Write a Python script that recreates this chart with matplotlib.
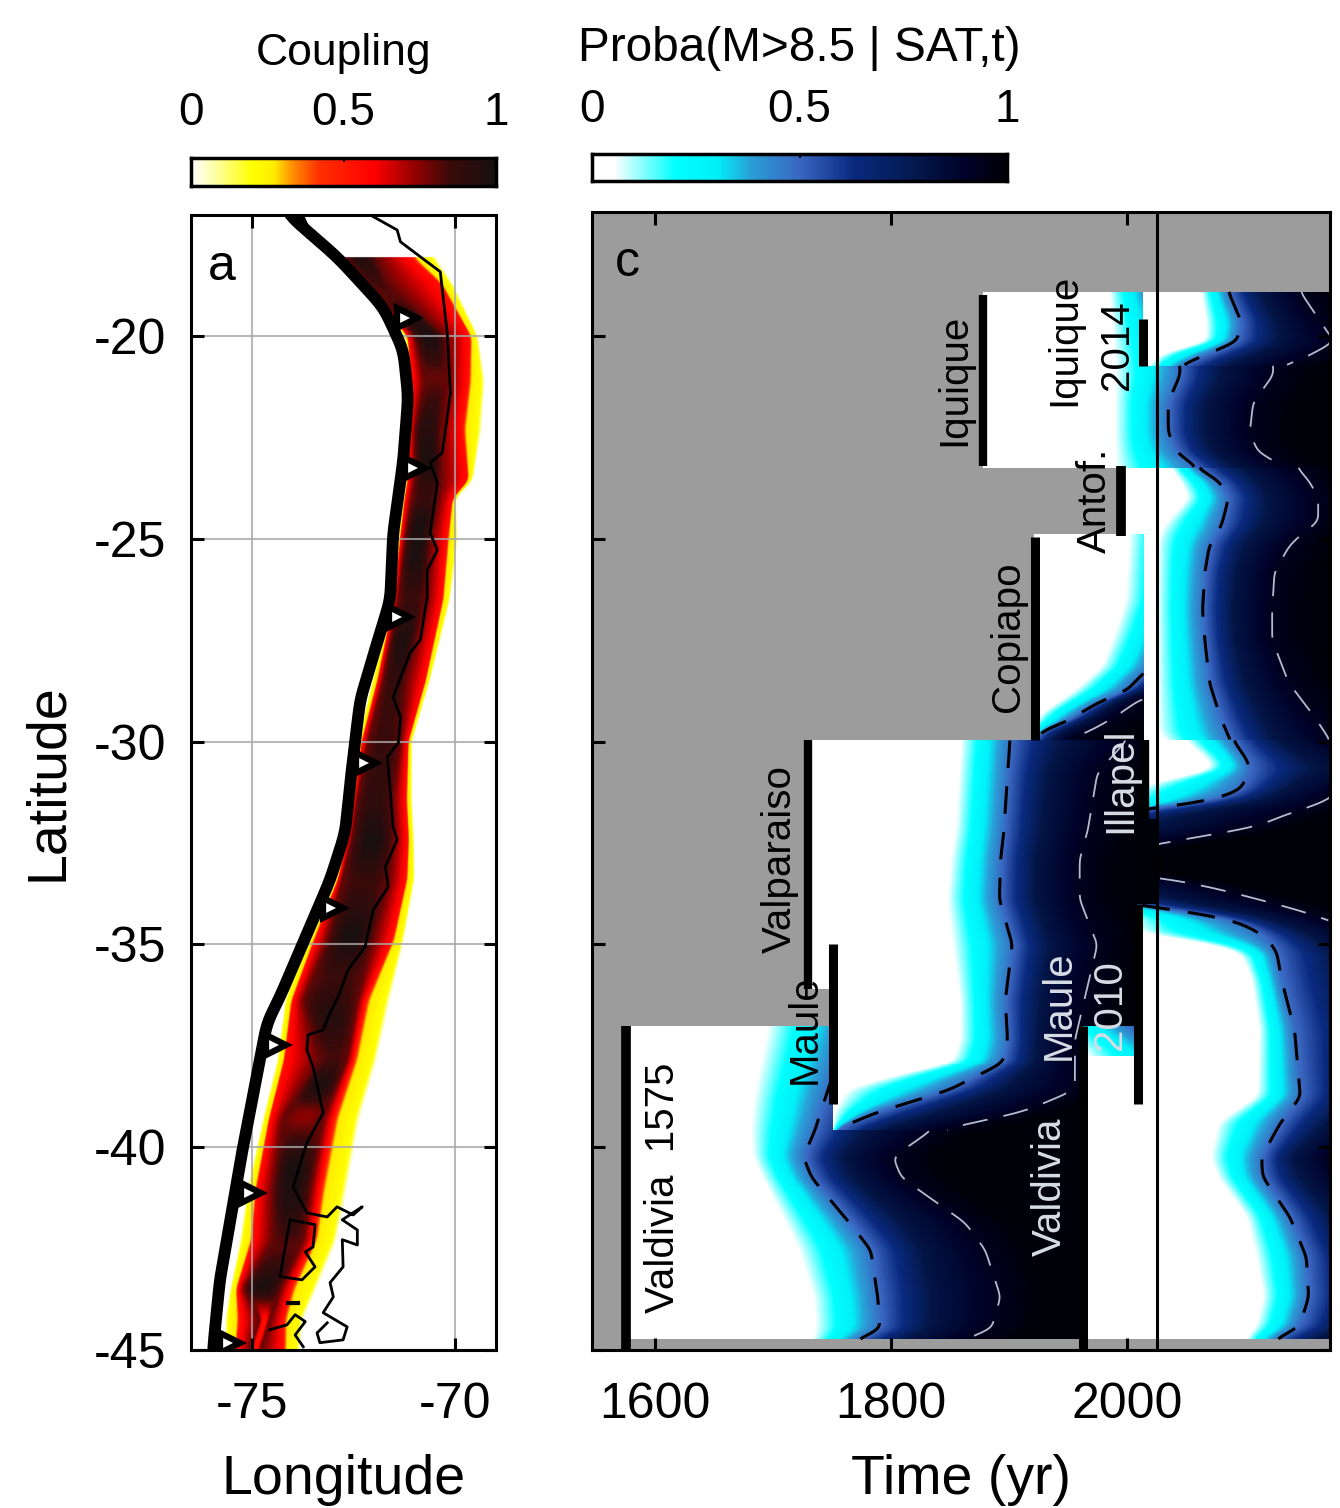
import numpy as np
import matplotlib
matplotlib.use('Agg')
import matplotlib.pyplot as plt
from matplotlib.colors import LinearSegmentedColormap

plt.rcParams['font.family'] = ['Liberation Sans', 'DejaVu Sans']
plt.rcParams['axes.unicode_minus'] = False

# ---- panel a: coupling band
band_lat = [-18.05, -18.7, -20, -21.1, -22.3, -23.55, -24, -25, -26.5, -28.5, -30, -31.45, -32.4, -33.4,
            -34.9, -36.4, -37.85, -39.3, -41.05, -42.3, -43.5, -44.25, -45]
band_yellow_w = [-72.83, -72.29, -71.23, -71.11, -71.16, -71.23, -71.31, -71.40, -71.55, -72.04, -72.39, -72.54, -72.71,
                 -72.96, -73.69, -74.19, -74.38, -74.73, -75.12, -75.30, -75.54, -75.67, -75.67]
band_red_w = [-72.78, -72.22, -71.16, -71.06, -71.11, -71.16, -71.23, -71.35, -71.50, -71.90, -72.29, -72.49, -72.64,
              -72.88, -73.45, -74.01, -74.19, -74.56, -74.88, -74.98, -75.37, -75.30, -75.37]
band_dark_w = [-72.71, -72.14, -70.99, -70.74, -70.99, -70.99, -71.06, -71.23, -71.40, -71.77, -72.14, -72.41, -72.54,
               -72.78, -73.13, -73.74, -73.33, -74.24, -74.48, -74.48, -75.22, -74.80, -75.05]
band_dark_e = [-71.97, -71.67, -70.25, -70.20, -70.37, -70.37, -70.42, -70.62, -70.74, -71.23, -71.35, -71.55, -71.53,
               -71.65, -72.04, -72.41, -72.66, -73.25, -73.57, -73.74, -74.31, -74.56, -74.80]
band_red_e = [-71.11, -70.37, -69.63, -69.68, -69.83, -69.68, -70.07, -70.20, -70.32, -70.74, -71.16, -71.21, -71.16,
              -71.21, -71.55, -72.22, -72.51, -73.00, -73.33, -73.50, -74.06, -74.24, -74.24]
band_yellow_e = [-70.47, -70.05, -69.43, -69.26, -69.34, -69.56, -69.98, -69.93, -70.12, -70.62, -71.06, -71.06, -71.01,
                 -70.99, -71.26, -71.60, -71.92, -72.34, -72.66, -72.91, -73.40, -73.74, -73.82]
# strength of the dark core along the margin
core_lat = [-18.05, -19, -20, -21, -22, -23, -24, -24.5, -25.5, -26.5, -27.5, -28.5, -29.5, -30.5, -31.5, -32.5, -33.5,
            -34.8, -35.8, -36.8, -37.8, -38.5, -39.2, -40.5, -41.5, -42.5, -43.5, -44.2, -45]
core_peak = [0.95, 0.8, 1, 0.78, 0.92, 0.98, 0.85, 0.98, 0.98, 0.85, 0.98, 0.88, 0.85, 0.88, 0.9, 1, 0.85,
             1, 0.85, 0.95, 0.82, 1, 0.72, 1, 0.95, 0.8, 1, 0.55, 0.55]

trench_lon = [-74.19, -72.91, -71.77, -71.28, -71.16, -71.28, -71.53, -71.60, -71.85, -72.34, -72.54, -72.71, -73.08,
              -74.31, -74.63, -75.22, -75.79, -75.96]
trench_lat = [-16.94, -18.05, -19.29, -20.35, -21.50, -23.06, -24.86, -26.51, -27.32, -28.97, -30.62, -32.25, -33.41,
              -36.29, -36.93, -39.99, -43.27, -45.0]
tri_lon = [-71.2, -70.98, -71.38, -72.2, -73.0, -74.42, -75.03, -75.55]
tri_lat = [-19.56, -23.25, -26.93, -30.53, -34.10, -37.48, -41.12, -44.82]
fork_lon = [-73.85, -73.60]
fork_lat = [-16.94, -17.5]

coast_lon = [-72.09, -71.43, -71.35, -70.37, -70.20, -70.12, -70.32, -70.62, -70.44, -70.62, -70.44, -70.69, -70.69,
             -70.86, -71.11, -71.53, -71.35, -71.40, -71.67, -71.53, -71.43, -71.72, -71.65, -72.02, -72.22, -72.64,
             -72.88, -73.08, -73.25, -73.62, -73.65, -73.50, -73.25, -73.65, -73.99, -73.65, -73.15, -72.91, -72.51,
             -72.29, -72.78, -72.41, -72.41, -72.78, -72.76, -73.08, -73.00, -73.25, -72.66, -72.76, -73.33, -73.40,
             -73.15]
coast_lat = [-17.02, -17.39, -17.68, -18.42, -19.93, -21.41, -22.88, -23.13, -23.62, -24.86, -25.28, -25.77, -26.43,
             -27.49, -27.81, -28.90, -29.39, -30.03, -30.38, -32.10, -32.42, -33.09, -33.58, -34.15, -35.06, -35.63,
             -36.29, -36.69, -37.11, -37.23, -37.60, -38.02, -39.15, -39.89, -40.98, -41.62, -41.72, -41.47, -41.67,
             -41.47, -41.79, -42.04, -42.41, -42.28, -42.95, -43.34, -43.69, -44.08, -44.43, -44.75, -44.82, -44.58,
             -44.33]
chiloe_lon = [-74.06, -73.45, -73.50, -73.69, -73.45, -73.77, -74.31, -74.14, -74.06]
chiloe_lat = [-41.79, -41.91, -42.46, -42.58, -42.95, -43.27, -43.19, -42.21, -41.79]
islet_lon = [-74.56, -74.14, -73.94, -73.69, -73.94, -73.74]
islet_lat = [-44.50, -44.38, -44.13, -44.30, -44.63, -44.92]
islet2_lon = [-74.11, -73.87]
islet2_lat = [-43.84, -43.84]

# ---- panel c: time (yr) of the white edge, the 0.5 line and the 0.9 line at each latitude
lat_a = [-37.0, -38.83, -39.57, -40.24, -40.75, -41.86, -42.53, -43.69, -44.5, -44.75]
tw_a = [1693, 1681, 1679, 1681, 1689, 1708, 1719, 1732, 1734, 1732]
t50_a = [1765, 1744, 1736, 1726, 1733, 1765, 1783, 1789, 1791, 1770]
t90_a = [1863, 1842, 1835, 1802, 1809, 1863, 1880, 1893, 1885, 1860]

lat_b = [-29.96, -30.77, -32.17, -32.9, -33.89, -35.0, -36.37, -37.35, -37.92, -38.27, -38.59, -39.13, -39.57]
tw_b = [1858, 1856, 1853, 1849, 1846, 1850, 1857, 1857, 1850, 1797, 1758, 1751, 1751]
t50_b = [1901, 1899, 1896, 1893, 1892, 1903, 1897, 1899, 1895, 1871, 1850, 1789, 1753]
t90_b = [2000, 1975, 1967, 1960, 1960, 1975, 1964, 1956, 1956, 1956, 1956, 1912, 1842]

lat_f = [-37.0, -37.75]
tw_f = [1940, 1965]
t50_f = [2000, 2040]
t90_f = [2100, 2150]

lat_d = [-29.96, -30.46, -30.7, -30.95, -31.19, -31.44, -31.61, -31.8, -32.1, -32.5, -32.92, -33.16, -33.33, -33.58,
         -33.9, -34.1, -34.22, -34.4, -34.72, -34.94, -35.2, -35.87, -37.11, -38.76, -39.4, -40.24, -40.73, -41.72,
         -42.71, -43.69, -44.43, -44.75]
tw_d = [2047, 2068, 2070, 2028, 2000, 1990, 1985, 1960, 1940, 1900, 1850, 1850, 1900, 1920,
        1950, 1985, 1990, 2000, 2003, 2062, 2095, 2105, 2111, 2109, 2075, 2069, 2075, 2100,
        2108, 2114, 2108, 2099]
t50_d = [2090, 2102, 2104, 2100, 2096, 2073, 2034, 1977, 1950, 1930, 1900, 1900, 1940, 1960,
         1977, 2030, 2056, 2090, 2113, 2121, 2127, 2131, 2142, 2147, 2130, 2114, 2115, 2138,
         2152, 2154, 2146, 2125]
t90_d = [2172, 2214, 2230, 2200, 2180, 2170, 2155, 2134, 2110, 2030, 1960, 1960, 2025, 2070,
         2113, 2138, 2153, 2170, 2200, 2220, 2240, 2250, 2260, 2250, 2220, 2172, 2185, 2220,
         2240, 2245, 2235, 2200]

lat_n1 = [-18.91, -20.71, -20.96, -21.63, -22.37, -22.86, -23.23]
tw_n1 = [1984, 1988, 1988, 1988, 1988, 1988, 1988]
t50_n1 = [2020, 2045, 2045, 2035, 2035, 2042, 2059]
t90_n1 = [2100, 2124, 2124, 2107, 2104, 2111, 2134]

lat_n2 = [-18.91, -19.65, -20.15, -20.35, -20.6, -20.71]
tw_n2 = [2062, 2066, 2066, 2032, 2020, 2016]
t50_n2 = [2086, 2097, 2093, 2075, 2056, 2045]
t90_n2 = [2147, 2164, 2176, 2162, 2147, 2130]

lat_n3 = [-23.23, -23.6, -24.0, -24.58, -24.86, -25.15, -25.82, -26.75, -27.49, -28.55, -29.39, -29.79, -29.96]
tw_n3 = [2036, 2045, 2051, 2032, 2026, 2024, 2024, 2024, 2024, 2024, 2024, 2024, 2032]
t50_n3 = [2059, 2079, 2086, 2081, 2077, 2070, 2066, 2064, 2066, 2070, 2079, 2085, 2088]
t90_n3 = [2144, 2155, 2162, 2162, 2149, 2138, 2125, 2123, 2123, 2137, 2159, 2168, 2172]

lat_n4 = [-24.88, -26.51, -27.32, -28.16, -28.48, -28.73, -28.97, -29.3, -29.47, -29.72, -29.96]
tw_n4 = [2000, 1997, 1988, 1977, 1964, 1954, 1943, 1926, 1922, 1918, 1918]
t50_n4 = [2050, 2045, 2035, 2020, 2008, 2001, 1980, 1960, 1952, 1929, 1922]
t90_n4 = [2120, 2120, 2110, 2080, 2060, 2035, 2010, 1995, 1985, 1970, 1950]

# rupture bars: year, north end, south end, width in points
bar_year = [1878, 2014, 1995, 1922, 1730, 1751, 1576, 2015, 2009, 1963]
bar_north = [-18.98, -19.58, -23.2, -24.95, -29.96, -35.0, -37.0, -29.96, -34.0, -37.0]
bar_south = [-23.2, -20.74, -24.93, -29.96, -36.1, -38.93, -45.0, -31.9, -38.93, -45.0]
bar_width = [6, 6.5, 7, 6.5, 6, 6.5, 7, 6, 6.5, 6.5]

label_text = ['Iquique', 'Iquique', '2014', 'Antof.', 'Copiapo', 'Valparaiso', 'Maule', 'Valdivia  1575',
              'Illapel', 'Maule', '2010', 'Valdivia']
label_year = [1854, 1947, 1992, 1973, 1899, 1706, 1727, 1607, 1994, 1942, 1986, 1935]
label_lat = [-21.08, -20.1, -20.22, -24.04, -27.42, -32.9, -37.1, -41.0, -30.95, -36.5, -36.5, -40.98]
label_color = ['k', 'k', 'k', 'k', 'k', 'k', 'k', 'k', '#d8dce4', '#d8dce4', '#d8dce4', '#d8dce4']

now_year = 2025.5

coupling_cmap = LinearSegmentedColormap.from_list('coupling', [
    (0, '#ffffff'), (0.08, '#ffffa0'), (0.2, '#ffff00'), (0.27, '#ffee00'), (0.33, '#ff9000'), (0.42, '#ff3000'),
    (0.6, '#ff0000'), (0.72, '#a00000'), (0.85, '#3c0a0a'), (1, '#181010')])
proba_cmap = LinearSegmentedColormap.from_list('proba', [
    (0, '#ffffff'), (0.05, '#ffffff'), (0.2, '#00ffff'), (0.3, '#00f0f8'), (0.38, '#2aa0d8'), (0.5, '#3a66c0'),
    (0.63, '#0a2a80'), (0.77, '#041a50'), (0.9, '#000228'), (1, '#000008')])


def panel(x0, y0, x1, y1):
    W, H = 1340.0, 1508.0
    return fig.add_axes([x0 / W, 1 - y1 / H, (x1 - x0) / W, (y1 - y0) / H])


def smooth(values, n):
    # hann running mean, edges held
    kernel = np.hanning(n + 2)[1:-1]
    kernel = kernel / kernel.sum()
    padded = np.r_[np.full(n, values[0]), values, np.full(n, values[-1])]
    return np.convolve(padded, kernel, mode='same')[n:-n]


fig = plt.figure(figsize=(13.4, 15.08), dpi=100)

# panel a
ax = panel(191, 215, 496, 1350)
lon = np.linspace(-76.5, -69, 500)
lat = np.linspace(-17, -45, 900)
coupling = np.zeros((len(lat), len(lon)))
asc = np.argsort(band_lat)
core_asc = np.argsort(core_lat)
knot_rows = [smooth(np.interp(lat, np.array(band_lat)[asc], np.array(b)[asc]), 15)
             for b in (band_yellow_w, band_red_w, band_dark_w, band_dark_e, band_red_e, band_yellow_e)]
peak_row = smooth(np.interp(lat, np.array(core_lat)[core_asc], np.array(core_peak)[core_asc]), 21)
for i, la in enumerate(lat):
    if la > band_lat[0]:
        continue
    yw, rw, dw, de, re, ye = [k[i] for k in knot_rows]
    knots = [yw, yw + 0.2 * (rw - yw), yw + 0.8 * (rw - yw), rw, dw, dw + (de - dw) / 3, de - (de - dw) / 3, de, re,
             ye - 0.8 * (ye - re), ye - 0.2 * (ye - re), ye]
    knots = np.maximum.accumulate(knots)
    values = [0, 0.2, 0.28, 0.55, 0.8, peak_row[i], peak_row[i], 0.8, 0.55, 0.28, 0.2, 0]
    coupling[i] = np.interp(lon, knots, values, left=0, right=0)
ax.imshow(coupling, extent=[-76.5, -69, -45, -17], aspect='auto', cmap=coupling_cmap, vmin=0, vmax=1,
          interpolation='bilinear', zorder=1)
ax.set_xlim(-76.5, -69)
ax.set_ylim(-45, -17.02)
ax.grid(True, color='#a8a8a8', lw=1.5, alpha=0.8, zorder=2)
ax.set_axisbelow(False)
ax.plot(coast_lon, coast_lat, color='k', lw=2, zorder=3)
ax.plot(chiloe_lon, chiloe_lat, color='k', lw=2, zorder=3)
ax.plot(islet_lon, islet_lat, color='k', lw=2, zorder=3)
ax.plot(islet2_lon, islet2_lat, color='k', lw=3, zorder=3)
trench_rows = np.linspace(-16.94, -45, 700)
trench_smooth = smooth(np.interp(trench_rows, trench_lat[::-1], trench_lon[::-1]), 25)
ax.plot(trench_smooth, trench_rows, color='k', lw=8.5, zorder=4, solid_capstyle='round')
ax.plot(fork_lon, fork_lat, color='k', lw=5, zorder=4)
ax.plot(tri_lon, tri_lat, ls='none', marker='>', ms=15, mfc='white', mec='k', mew=4.5, zorder=5)
ax.set_xticks([-75, -70])
ax.set_yticks([-20, -25, -30, -35, -40, -45])
ax.tick_params(direction='in', length=9, width=2.2, top=True, right=True, labelsize=36)
ax.tick_params(axis='x', pad=23)
ax.tick_params(axis='y', pad=18)
ax.set_xlabel('Longitude', fontsize=40, labelpad=19)
ax.set_ylabel('Latitude', fontsize=40, labelpad=14)
ax.text(-75.75, -18.3, 'a', fontsize=36, ha='center', va='center', zorder=6)
for s in ax.spines.values():
    s.set_linewidth(2.2)
    s.set_zorder(6)

# panel c
ax = panel(592, 212, 1330, 1350)
years = np.arange(1547, 2172.5, 0.5)
rows = np.linspace(-16.94, -45, 1140)
field = np.full((len(rows), len(years)), np.nan)


def paint(lats, tw, t50, t90, windows, dashes=True):
    # fills the rows of one interval between ruptures, then draws its two dashed levels
    order = np.argsort(lats)
    la = np.array(lats, float)[order]
    a_row = smooth(np.interp(rows, la, np.array(tw, float)[order]), 21)
    b_row = smooth(np.interp(rows, la, np.array(t50, float)[order]), 21)
    c_row = smooth(np.interp(rows, la, np.array(t90, float)[order]), 21)
    line50 = np.full(len(rows), np.nan)
    line90 = np.full(len(rows), np.nan)
    for north, south, start, stop in windows:
        for i, r in enumerate(rows):
            if not (south <= r < north):
                continue
            a = a_row[i]
            b = max(b_row[i], a + 1)
            c = max(c_row[i], b + 1)
            p = np.interp(years, [a, a + 0.35 * (b - a), a + 0.6 * (b - a), b, b + 0.45 * (c - b), c, c + 40],
                          [0.03, 0.2, 0.3, 0.48, 0.8, 0.93, 1])
            p[years < a] = 0
            m = (years >= start) & (years <= stop)
            field[i, m] = p[m]
            if start <= b <= stop:
                line50[i] = b
            if start <= c <= stop:
                line90[i] = c
    if dashes:
        ax.plot(line50, rows, color='k', lw=2.2, dashes=(9, 6), zorder=4)
        ax.plot(line90, rows, color='#b4bccb', lw=1.3, dashes=(14, 9), zorder=4)


paint(lat_a, tw_a, t50_a, t90_a, [(-37, -39.6, 1576, 1751), (-39.6, -44.75, 1576, 1963)])
paint(lat_b, tw_b, t50_b, t90_b, [(-29.96, -31.9, 1730, 2015), (-31.9, -34, 1730, 2025), (-34, -36.1, 1730, 2009),
                                  (-36.1, -37, 1751, 2009), (-37, -37.75, 1751, 1963), (-37.75, -39.6, 1751, 1963)])
paint(lat_f, tw_f, t50_f, t90_f, [(-37, -37.75, 1963, 2009)], dashes=False)
paint(lat_d, tw_d, t50_d, t90_d, [(-29.96, -31.9, 2015, 2172), (-31.9, -34, 2025, 2172), (-34, -37.75, 2009, 2172),
                                  (-37.75, -44.75, 1963, 2172)])
paint(lat_n1, tw_n1, t50_n1, t90_n1, [(-18.91, -20.71, 1878, 2014), (-20.71, -23.23, 1878, 2172)])
paint(lat_n2, tw_n2, t50_n2, t90_n2, [(-18.91, -20.71, 2014, 2172)])
paint(lat_n3, tw_n3, t50_n3, t90_n3, [(-23.23, -24.88, 1995, 2172), (-24.88, -29.96, 2014, 2172)])
paint(lat_n4, tw_n4, t50_n4, t90_n4, [(-24.88, -29.96, 1922, 2014)])

ax.set_facecolor('#9c9c9c')
ax.imshow(np.ma.masked_invalid(field), extent=[1547, 2172, -45, -16.94], aspect='auto', cmap=proba_cmap, vmin=0, vmax=1,
          interpolation='nearest', zorder=1)
ax.set_xlim(1547, 2172)
ax.set_ylim(-45, -16.94)
for yr, n, s, w in zip(bar_year, bar_north, bar_south, bar_width):
    ax.plot([yr, yr], [n, s], color='k', lw=w, zorder=5, solid_capstyle='butt')
ax.axvline(now_year, color='k', lw=2.2, zorder=6)
for t, yr, la, c in zip(label_text, label_year, label_lat, label_color):
    ax.text(yr, la, t, rotation=90, color=c, fontsize=29, ha='center', va='center', zorder=7)
ax.text(1577, -18.2, 'c', fontsize=36, ha='center', va='center', zorder=7)
ax.set_xticks([1600, 1800, 2000])
ax.set_yticks([-20, -25, -30, -35, -40, -45])
ax.set_yticklabels([])
ax.tick_params(direction='in', length=9, width=2.2, top=True, right=True, labelsize=36)
ax.tick_params(axis='x', pad=23)
ax.set_xlabel('Time (yr)', fontsize=40, labelpad=19)
for s in ax.spines.values():
    s.set_linewidth(2.2)
    s.set_zorder(8)

# colour bars
gradient = np.linspace(0, 1, 400).reshape(1, -1)
for box, cmap, title, size, pad in [((191, 158, 496, 186), coupling_cmap, 'Coupling', 32, 16.5),
                                    ((592, 154, 1007, 181), proba_cmap, 'Proba(M>8.5 | SAT,t)', 34.4, 16)]:
    cb = panel(*box)
    cb.imshow(gradient, extent=[0, 1, 0, 1], aspect='auto', cmap=cmap, vmin=0, vmax=1)
    cb.set_xticks([0, 0.5, 1])
    cb.set_xticklabels(['0', '0.5', '1'])
    cb.set_yticks([])
    cb.xaxis.tick_top()
    cb.tick_params(axis='x', direction='in', length=3, width=1.5, labelsize=33, pad=pad)
    cb.set_title(title, fontsize=size, pad=19)
    for s in cb.spines.values():
        s.set_linewidth(2.5)

fig.savefig('out.png', dpi=100)
